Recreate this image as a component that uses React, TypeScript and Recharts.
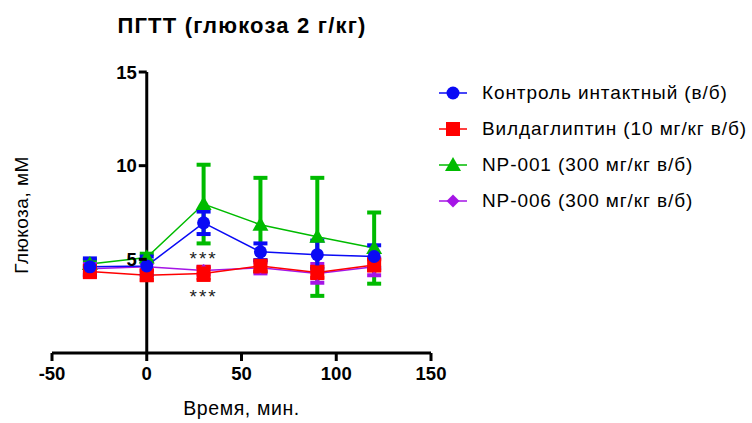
import {
  ComposedChart,
  Line,
  XAxis,
  YAxis,
  ErrorBar,
  ReferenceLine,
  ReferenceDot,
} from "recharts";

// sampling times, min
const TIMES = [-30, 0, 30, 60, 90, 120];

// glucose, mM (mean ± SEM)
const CONTROL = [4.6, 4.65, 6.95, 5.4, 5.25, 5.15];
const CONTROL_ERR = [0.45, 0.5, 0.6, 0.45, 0.75, 0.6];
const VILDA = [4.35, 4.15, 4.25, 4.65, 4.3, 4.7];
const VILDA_ERR = [0.3, 0.25, 0.35, 0.3, 0.3, 0.3];
const NP001 = [4.75, 5.1, 7.95, 6.85, 6.2, 5.6];
const NP001_ERR = [0.2, 0.2, 2.1, 2.5, 3.15, 1.9];
const NP006 = [4.5, 4.6, 4.4, 4.55, 4.25, 4.6];
const NP006_ERR = [0.25, 0.2, 0.2, 0.3, 0.5, 0.45];

const X_TICKS = [-50, 0, 50, 100, 150];
const Y_TICKS = [5, 10, 15];

const X_MIN = -50;
const X_MAX = 150;

const W = 752;
const H = 423;
const M = { top: 72, right: 321, bottom: 40, left: 51 };
const Y_AXIS_W = 1;
const X_AXIS_H = 30;
const PLOT_LEFT = M.left + Y_AXIS_W;
const PLOT_W = W - PLOT_LEFT - M.right;

const FONT = "'Liberation Sans', Arial, sans-serif";

const BLUE = "#0a0af5";
const RED = "#ff0000";
const GREEN = "#00bb00";
const PURPLE = "#a515e6";

const data = TIMES.map((t, i) => ({
  t,
  control: CONTROL[i],
  controlErr: CONTROL_ERR[i],
  vilda: VILDA[i],
  vildaErr: VILDA_ERR[i],
  np001: NP001[i],
  np001Err: NP001_ERR[i],
  np006: NP006[i],
  np006Err: NP006_ERR[i],
}));

type Shape = "circle" | "square" | "triangle" | "diamond";

function Marker({ cx, cy, shape, color }: { cx: number; cy: number; shape: Shape; color: string }) {
  if (cx == null || cy == null) return null;
  if (shape === "circle") return <circle cx={cx} cy={cy} r={6.5} fill={color} />;
  if (shape === "square")
    return <rect x={cx - 7} y={cy - 7} width={14} height={14} fill={color} />;
  if (shape === "triangle")
    return <polygon points={`${cx},${cy - 8} ${cx + 8},${cy + 6} ${cx - 8},${cy + 6}`} fill={color} />;
  return <polygon points={`${cx},${cy - 6.5} ${cx + 6.5},${cy} ${cx},${cy + 6.5} ${cx - 6.5},${cy}`} fill={color} />;
}

const dotFor = (shape: Shape, color: string) => (p: any) =>
  <Marker key={p.key ?? `${shape}-${p.index}`} cx={p.cx} cy={p.cy} shape={shape} color={color} />;

const SERIES: { key: string; name: string; color: string; shape: Shape }[] = [
  { key: "control", name: "Контроль интактный (в/б)", color: BLUE, shape: "circle" },
  { key: "vilda", name: "Вилдаглиптин (10 мг/кг в/б)", color: RED, shape: "square" },
  { key: "np001", name: "NP-001 (300 мг/кг в/б)", color: GREEN, shape: "triangle" },
  { key: "np006", name: "NP-006 (300 мг/кг в/б)", color: PURPLE, shape: "diamond" },
];

// y ticks are drawn along the x = 0 line, not at the left edge of the plot
function YTick({ y, payload }: any) {
  const x0 = PLOT_LEFT + (PLOT_W * (0 - X_MIN)) / (X_MAX - X_MIN);
  return (
    <g>
      <line x1={x0 - 8} x2={x0} y1={y} y2={y} stroke="#000" strokeWidth={3} />
      <text x={x0 - 10} y={y} dy="0.36em" textAnchor="end" fontSize={18.5} fontWeight="bold" fill="#000" fontFamily={FONT}>
        {payload.value}
      </text>
    </g>
  );
}

function LegendBox() {
  return (
    <div style={{ position: "absolute", left: 438, top: 75, fontFamily: FONT }}>
      {SERIES.map((s) => (
        <div key={s.key} style={{ display: "flex", alignItems: "center", height: 36 }}>
          <svg width={30} height={20} style={{ marginRight: 14 }}>
            <line x1={1} x2={29} y1={10} y2={10} stroke={s.color} strokeWidth={1.5} />
            <Marker cx={15} cy={10} shape={s.shape} color={s.color} />
          </svg>
          <span style={{ fontSize: 19, letterSpacing: 0.9, color: "#000", whiteSpace: "nowrap" }}>{s.name}</span>
        </div>
      ))}
    </div>
  );
}

export default function App() {
  return (
    <div style={{ position: "absolute", left: 0, top: 0, width: W, height: H, fontFamily: FONT, background: "#fff" }}>
      <div
        style={{
          position: "absolute",
          left: 0,
          width: 484,
          top: 13,
          textAlign: "center",
          fontSize: 22,
          letterSpacing: 1.2,
          fontWeight: "bold",
          color: "#000",
        }}
      >
        ПГТТ (глюкоза 2 г/кг)
      </div>
      <div
        style={{
          position: "absolute",
          left: 22,
          top: 215,
          transform: "translate(-50%, -50%) rotate(-90deg)",
          fontSize: 19,
          letterSpacing: 0.5,
          color: "#000",
          whiteSpace: "nowrap",
        }}
      >
        Глюкоза, мМ
      </div>
      <LegendBox />
      <ComposedChart width={W} height={H} data={data} margin={M} style={{ position: "absolute", left: 0, top: 0 }}>
        <XAxis
          dataKey="t"
          type="number"
          domain={[X_MIN, X_MAX]}
          ticks={X_TICKS}
          height={X_AXIS_H}
          axisLine={{ stroke: "#000", strokeWidth: 3 }}
          tickLine={{ stroke: "#000", strokeWidth: 3 }}
          tickSize={8}
          tickMargin={6}
          tick={{ fontSize: 18.5, fontWeight: "bold", fill: "#000", fontFamily: FONT }}
          label={{
            value: "Время, мин.",
            position: "insideBottom",
            offset: -32,
            fontSize: 19.5,
            letterSpacing: 0.6,
            fill: "#000",
            fontFamily: FONT,
          }}
        />
        <YAxis
          type="number"
          domain={[0, 15]}
          ticks={Y_TICKS}
          width={Y_AXIS_W}
          axisLine={false}
          tickLine={false}
          tick={<YTick />}
          interval={0}
          allowDataOverflow
        />
        <ReferenceLine x={0} stroke="#000" strokeWidth={3} />
        <Line dataKey="np001" stroke={GREEN} strokeWidth={1.5} dot={dotFor("triangle", GREEN)} isAnimationActive={false}>
          <ErrorBar dataKey="np001Err" direction="y" width={7} stroke={GREEN} strokeWidth={4} />
        </Line>
        <Line dataKey="np006" stroke={PURPLE} strokeWidth={1.5} dot={dotFor("diamond", PURPLE)} isAnimationActive={false}>
          <ErrorBar dataKey="np006Err" direction="y" width={7} stroke={PURPLE} strokeWidth={4} />
        </Line>
        <Line dataKey="vilda" stroke={RED} strokeWidth={1.5} dot={dotFor("square", RED)} isAnimationActive={false}>
          <ErrorBar dataKey="vildaErr" direction="y" width={7} stroke={RED} strokeWidth={4} />
        </Line>
        <Line dataKey="control" stroke={BLUE} strokeWidth={1.5} dot={dotFor("circle", BLUE)} isAnimationActive={false}>
          <ErrorBar dataKey="controlErr" direction="y" width={7} stroke={BLUE} strokeWidth={4} />
        </Line>
        <ReferenceDot
          x={30}
          y={5.05}
          r={0}
          label={{ value: "***", position: "center", fontSize: 19, letterSpacing: 2, fill: "#222" }}
        />
        <ReferenceDot
          x={30}
          y={3.05}
          r={0}
          label={{ value: "***", position: "center", fontSize: 19, letterSpacing: 2, fill: "#222" }}
        />
      </ComposedChart>
    </div>
  );
}
